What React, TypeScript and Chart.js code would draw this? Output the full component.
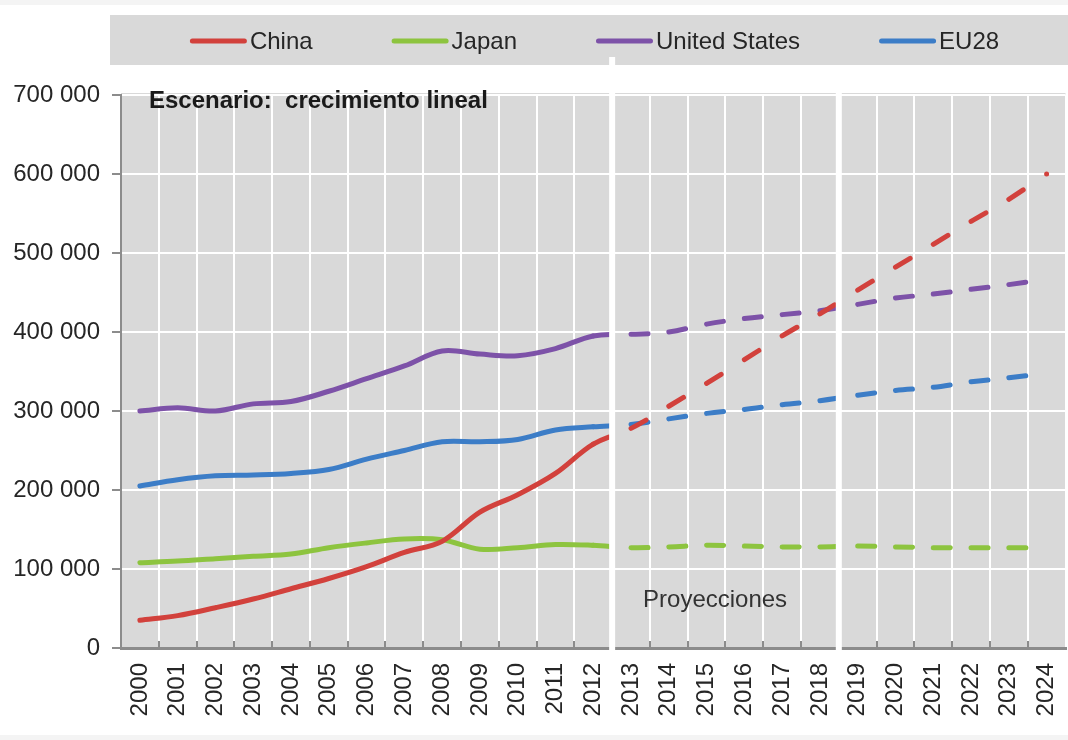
import React, { useEffect, useRef } from 'react';
import { Chart, registerables } from 'chart.js';

Chart.register(...registerables);

// ---------- data ----------
const years = [
  '2000', '2001', '2002', '2003', '2004', '2005', '2006', '2007', '2008', '2009',
  '2010', '2011', '2012', '2013', '2014', '2015', '2016', '2017', '2018', '2019',
  '2020', '2021', '2022', '2023', '2024',
];

const seriesNames = ['China', 'Japan', 'United States', 'EU28'];
const seriesColors = ['#d2413c', '#8dc43f', '#7d52a8', '#3c7dc7'];

const china = [
  35000, 41000, 51000, 62000, 75000, 88000, 103000, 121000, 135000, 172000,
  194000, 221000, 258000, 278000, 306000, 335000, 365000, 395000, 423000, 453000,
  482000, 511000, 540000, 568000, 600000,
];
const japan = [
  108000, 110000, 113000, 116000, 119000, 127000, 133000, 138000, 137000, 125000,
  127000, 131000, 130000, 127000, 128000, 130000, 129000, 128000, 128000, 129000,
  128000, 127000, 127000, 127000, 127000,
];
const unitedStates = [
  300000, 304000, 300000, 309000, 312000, 325000, 341000, 357000, 376000, 372000,
  370000, 379000, 395000, 397000, 400000, 410000, 417000, 422000, 427000, 435000,
  443000, 448000, 454000, 460000, 467000,
];
const eu28 = [
  205000, 213000, 218000, 219000, 221000, 226000, 239000, 250000, 261000, 261000,
  264000, 276000, 280000, 283000, 290000, 297000, 302000, 308000, 313000, 320000,
  326000, 330000, 337000, 342000, 348000,
];

const yMin = 0;
const yMax = 700000;
const yStep = 100000;

const titleText = 'Escenario:  crecimiento lineal';
const projectionLabel = 'Proyecciones';
const lastHistoricalIndex = 12; // 2012: projections (dashed) start here
const separatorAfterIndex = [12, 18]; // white separators after 2012 and after 2018

const FONT = '"Liberation Sans", Arial, sans-serif';
const TEXT = '#262626';
const AXIS = '#8c8c8c';
const PLOT_BG = '#d9d9d9';

const fmt = (v: number) => String(v).replace(/\B(?=(\d{3})+(?!\d))/g, ' ');

const decorPlugin = {
  id: 'decor',
  beforeDraw(chart: any) {
    const { ctx, chartArea: a, width, height } = chart;
    ctx.save();
    ctx.fillStyle = '#ffffff';
    ctx.fillRect(0, 0, width, height);
    ctx.fillStyle = '#f4f4f4';
    ctx.fillRect(0, 0, width, 5);
    ctx.fillRect(0, height - 5, width, 5);
    ctx.fillStyle = PLOT_BG;
    ctx.fillRect(110, 15, width - 110, 50);
    ctx.fillRect(a.left, a.top - 2, a.right - a.left, a.bottom - a.top + 2);
    ctx.restore();
  },
  afterDraw(chart: any) {
    const { ctx, chartArea: a } = chart;
    const x = chart.scales.x;
    ctx.save();
    // inner tick marks on x axis
    ctx.strokeStyle = AXIS;
    ctx.lineWidth = 2;
    for (let i = 0; i < years.length - 1; i++) {
      const px = Math.round((x.getPixelForValue(i) + x.getPixelForValue(i + 1)) / 2);
      ctx.beginPath();
      ctx.moveTo(px, a.bottom);
      ctx.lineTo(px, a.bottom - 7);
      ctx.stroke();
    }
    // white separators
    ctx.strokeStyle = '#ffffff';
    ctx.lineWidth = 6;
    separatorAfterIndex.forEach((idx, k) => {
      const px = (x.getPixelForValue(idx) + x.getPixelForValue(idx + 1)) / 2;
      ctx.beginPath();
      ctx.moveTo(px, k === 0 ? 57 : a.top - 2);
      ctx.lineTo(px, a.bottom + 3);
      ctx.stroke();
    });
    // scenario title
    ctx.fillStyle = '#1a1a1a';
    ctx.textAlign = 'left';
    ctx.textBaseline = 'alphabetic';
    ctx.font = 'bold 24px ' + FONT;
    ctx.fillText(titleText, a.left + 28, a.top + 13);
    // projection label
    ctx.fillStyle = '#333333';
    ctx.font = '24px ' + FONT;
    ctx.fillText(projectionLabel, x.getPixelForValue(lastHistoricalIndex + 1) + 12, 607);
    // legend
    ctx.font = '24px ' + FONT;
    const sample = 57;
    const gapText = 3;
    const gapItem = 79;
    const widths = seriesNames.map((n) => sample + gapText + ctx.measureText(n).width);
    const total = widths.reduce((s, w) => s + w, 0) + gapItem * (seriesNames.length - 1);
    let lx = 594.5 - total / 2;
    const ly = 41;
    ctx.textBaseline = 'middle';
    seriesNames.forEach((n, i) => {
      ctx.strokeStyle = seriesColors[i];
      ctx.lineWidth = 5;
      ctx.lineCap = 'round';
      ctx.beginPath();
      ctx.moveTo(lx + 2.5, ly);
      ctx.lineTo(lx + sample - 2.5, ly);
      ctx.stroke();
      ctx.fillStyle = TEXT;
      ctx.fillText(n, lx + sample + gapText, ly + 1);
      lx += widths[i] + gapItem;
    });
    ctx.restore();
  },
};

export default function App() {
  const canvasRef = useRef<HTMLCanvasElement | null>(null);

  useEffect(() => {
    document.body.style.margin = '0';
    const canvas = canvasRef.current;
    if (!canvas) return;
    Chart.defaults.font.family = FONT;

    const seriesData = [china, japan, unitedStates, eu28];
    const chart = new Chart(canvas, {
      type: 'line',
      data: {
        labels: years,
        datasets: seriesData.map((d, i) => ({
          label: seriesNames[i],
          data: d,
          borderColor: seriesColors[i],
          backgroundColor: seriesColors[i],
          borderWidth: 5,
          borderCapStyle: 'round',
          borderJoinStyle: 'round',
          tension: 0.35,
          fill: false,
          pointRadius: i === 0 ? (c: any) => (c.dataIndex === years.length - 1 ? 2.5 : 0) : 0,
          pointBorderWidth: 0,
          pointHoverRadius: 0,
          segment: {
            borderDash: (c: any) =>
              c.p0DataIndex >= lastHistoricalIndex
                ? c.p0DataIndex % 2
                  ? [17, 300]
                  : [17, 301]
                : undefined,
          },
        })),
      },
      options: {
        animation: false,
        responsive: true,
        maintainAspectRatio: false,
        events: [],
        layout: { padding: { top: 95, left: 0, right: 0, bottom: 0 } },
        plugins: {
          legend: { display: false },
          tooltip: { enabled: false },
          title: { display: false },
        },
        scales: {
          x: {
            offset: true,
            grid: {
              offset: true,
              color: (c: any) => (c.index === 0 ? 'rgba(0,0,0,0)' : '#ffffff'),
              lineWidth: 2,
              drawTicks: false,
            },
            border: { color: AXIS, width: 3 },
            ticks: {
              autoSkip: false,
              minRotation: 90,
              maxRotation: 90,
              padding: 15,
              color: TEXT,
              font: { size: 24, family: FONT },
            },
            afterFit: (s: any) => {
              s.height = 92;
              s.paddingLeft = 0;
              s.paddingRight = 0;
            },
          },
          y: {
            min: yMin,
            max: yMax,
            ticks: {
              stepSize: yStep,
              padding: 12,
              color: TEXT,
              font: { size: 24, family: FONT },
              callback: (v: any) => fmt(Number(v)),
            },
            grid: {
              color: (c: any) => (c.tick && c.tick.value === 0 ? 'rgba(0,0,0,0)' : '#ffffff'),
              lineWidth: 2,
              tickColor: AXIS,
              tickLength: 9,
              tickWidth: 2,
            },
            border: { color: AXIS, width: 2 },
            afterFit: (s: any) => {
              s.width = 121;
            },
          },
        },
      },
      plugins: [decorPlugin],
    } as any);

    return () => chart.destroy();
  }, []);

  return (
    <div style={{ position: 'relative', width: '1068px', height: '740px' }}>
      <canvas ref={canvasRef} />
    </div>
  );
}
